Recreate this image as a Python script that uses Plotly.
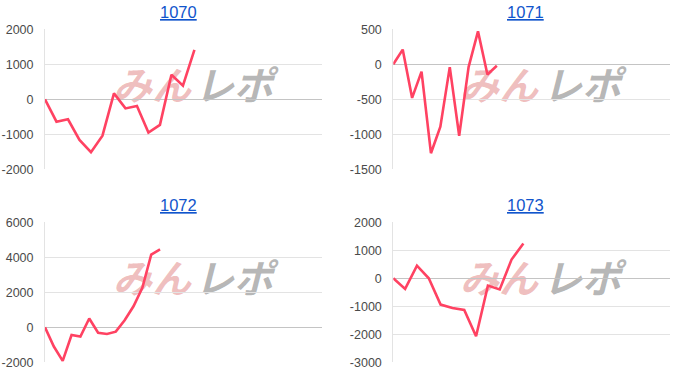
import plotly.graph_objects as go

titles = ["1070", "1071", "1072", "1073"]
series_1070 = [0, -640, -570, -1160, -1510, -1040, 170, -260, -190, -950, -730, 700, 390, 1410]
series_1071 = [0, 210, -480, -105, -1270, -890, -40, -1020, -40, 470, -145, -20]
series_1072 = [0, -1100, -1920, -440, -530, 500, -310, -380, -250, 400, 1200, 2250, 4150, 4450]
series_1073 = [0, -380, 450, 0, -940, -1060, -1130, -2070, -260, -400, 670, 1240]
series = [series_1070, series_1071, series_1072, series_1073]

ticks_1070 = [-2000, -1000, 0, 1000, 2000]
ticks_1071 = [-1500, -1000, -500, 0, 500]
ticks_1072 = [-2000, 0, 2000, 4000, 6000]
ticks_1073 = [-3000, -2000, -1000, 0, 1000, 2000]
tick_sets = [ticks_1070, ticks_1071, ticks_1072, ticks_1073]
x_max = [24.1, 29.4, 31.3, 23.4]

W, H = 700, 386
LINE = "#ff4262"

# pixel layout of each panel: (left, right, top, bottom)
panels = [(45, 322, 29.3, 169.3), (393.3, 670, 29.3, 169.3),
          (45, 322, 222.3, 362.3), (393.3, 670, 222.3, 362.3)]

fig = go.Figure()
layout = dict(width=W, height=H, margin=dict(l=0, r=0, t=0, b=0, autoexpand=False),
              paper_bgcolor="white", plot_bgcolor="white", showlegend=False,
              font=dict(family="Liberation Sans, Arial", size=12, color="#444"))
annotations = []
shapes = []
for i, (vals, title) in enumerate(zip(series, titles)):
    n = i + 1
    xa = "x" if n == 1 else f"x{n}"
    ya = "y" if n == 1 else f"y{n}"
    fig.add_trace(go.Scatter(x=list(range(len(vals))), y=vals, mode="lines",
                             line=dict(color=LINE, width=2.6), xaxis=xa, yaxis=ya,
                             hoverinfo="skip"))
    l, r, t, b = panels[i]
    tv = tick_sets[i]
    layout["xaxis" if n == 1 else f"xaxis{n}"] = dict(
        domain=[l / W, r / W], range=[0, x_max[i]], showgrid=False, zeroline=False,
        showticklabels=False, showline=False, anchor=ya, fixedrange=True, automargin=False)
    layout["yaxis" if n == 1 else f"yaxis{n}"] = dict(
        domain=[1 - b / H, 1 - t / H], range=[min(tv), max(tv)],
        tickmode="array", tickvals=tv, ticktext=[str(v) for v in tv],
        showgrid=True, gridcolor="#e3e3e3", gridwidth=1,
        zeroline=True, zerolinecolor="#c4c4c4", zerolinewidth=1.3,
        showline=True, linecolor="#e3e3e3", linewidth=1, mirror=False,
        ticks="", ticklabelstandoff=8, anchor=xa, fixedrange=True, automargin=False,
        tickfont=dict(size=12.5, color="#4a4a4a"))
    cx = 178 if i % 2 == 0 else 525
    cy = 12 if i < 2 else 205
    annotations.append(dict(text=title, x=cx / W, y=1 - cy / H, xref="paper", yref="paper",
                            showarrow=False, xanchor="center", yanchor="middle",
                            font=dict(size=16.5, color="#1155cc", lineposition="under")))
    # watermark
    wx = 152 if i % 2 == 0 else 499
    gx = 234 if i % 2 == 0 else 582
    wy = 89 if i < 2 else 282
    for txt, px, col in [("みん", wx, "rgba(220,110,110,0.45)"), ("レポ", gx, "rgba(120,120,120,0.55)")]:
        shapes.append(dict(type="rect", xref="paper", yref="paper",
                           x0=(px - 42) / W, x1=(px + 42) / W,
                           y0=1 - (wy + 16) / H, y1=1 - (wy - 16) / H,
                           line=dict(width=0), fillcolor="rgba(0,0,0,0)", layer="below",
                           label=dict(text=f"<b><i>{txt}</i></b>", textposition="middle center",
                                      font=dict(family="Noto Sans CJK JP", size=39, color=col))))

layout["annotations"] = annotations
layout["shapes"] = shapes
fig.update_layout(**layout)
fig.write_html("out.html")
